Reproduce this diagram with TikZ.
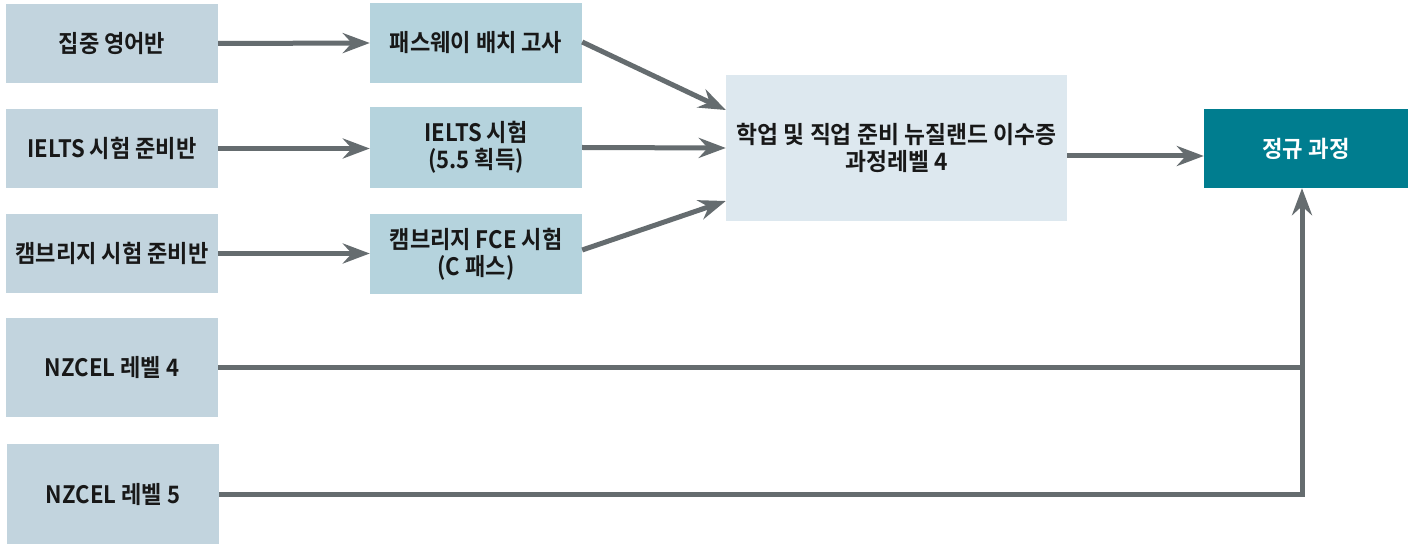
\documentclass[tikz,border=0pt]{standalone}
\usepackage{fontspec}
\newfontfamily\kb[FakeStretch=0.92]{Noto Sans CJK KR Bold}
\newfontfamily\kbb[FakeStretch=0.95]{Noto Sans CJK KR Bold}
\newfontfamily\kbw[FakeStretch=0.97]{Noto Sans CJK KR Bold}
\usetikzlibrary{arrows.meta}
\definecolor{lbox}{RGB}{194,212,222}
\definecolor{mbox}{RGB}{181,211,221}
\definecolor{bbox}{RGB}{221,232,239}
\definecolor{tbox}{RGB}{0,125,143}
\definecolor{arr}{RGB}{101,108,111}
\definecolor{txt}{RGB}{24,24,24}
\begin{document}
\begin{tikzpicture}[x=1pt,y=-1pt,
  box/.style={inner sep=0pt, align=center, text=txt,
    font=\kb\fontsize{24}{27}\selectfont},
  lb/.style={box, fill=lbox, minimum width=212pt},
  mb/.style={box, fill=mbox, minimum width=212pt},
  arrowline/.style={draw=arr, line width=5pt, line join=miter,
    -{Stealth[length=27pt,width=20pt,inset=9pt]}},
  plainline/.style={draw=arr, line width=5pt}]
\useasboundingbox (0,0) rectangle (1416,545);
\fill[white] (0,0) rectangle (1416,545);
% left column
\node[lb, minimum height=79pt] (l1) at (112,43.5) {집중 영어반};
\node[lb, minimum height=79pt] (l2) at (112,148.5) {IELTS 시험 준비반};
\node[lb, minimum height=79pt] (l3) at (112,253.5) {캠브리지 시험 준비반};
\node[lb, minimum height=99pt] (l4) at (112,367.5) {NZCEL 레벨 4};
\node[lb, minimum height=100pt] (l5) at (113,494) {NZCEL 레벨 5};
% middle column
\node[mb, minimum height=80pt] (m1) at (476,43) {패스웨이 배치 고사};
\node[mb, minimum height=81pt] (m2) at (476,147.5) {IELTS 시험\\(5.5 획득)};
\node[mb, minimum height=80pt] (m3) at (476,254) {캠브리지 FCE 시험\\(C 패스)};
% big box
\node[box, fill=bbox, minimum width=341pt, minimum height=146pt,
  font=\kbb\fontsize{24}{27}\selectfont] (big) at (896.5,148) {학업 및 직업 준비 뉴질랜드 이수증\\과정레벨 4};
% right box
\node[box, fill=tbox, text=white, minimum width=204pt, minimum height=79pt,
  font=\kbw\fontsize{23}{27}\selectfont] (r) at (1306,148.5) {정규 과정};
% connectors
\draw[arrowline] (l1.east) -- (m1.west);
\draw[arrowline] (l2.east) -- (m2.west |- l2.east);
\draw[arrowline] (l3.east) -- (m3.west |- l3.east);
\draw[arrowline] ([yshift=1pt]m1.east) -- ([yshift=38pt]big.west);
\draw[arrowline] (m2.east) -- (big.west);
\draw[arrowline] ([yshift=4pt]m3.east) -- ([yshift=-53pt]big.west);
\draw[arrowline] ([yshift=-8pt]big.east) -- ([yshift=-7.5pt]r.west);
\coordinate (j5) at (1302,494);
\draw[plainline] (l4.east) -- (l4.east -| j5);
\draw[arrowline] (l5.east) -- (j5) -- (r.south -| j5);
\end{tikzpicture}
\end{document}
